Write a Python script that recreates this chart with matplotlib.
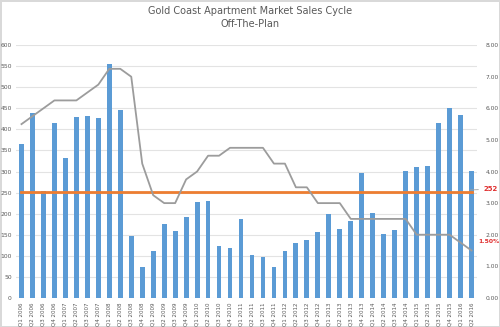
import numpy as np
import matplotlib.pyplot as plt

# kuartal dari Q1 2006 sampai Q2 2016
quarters = [f"Q{q} {y}" for y in range(2006, 2017) for q in range(1, 5)][:42]

# jumlah penjualan off-the-plan (sumbu kiri)
sales = [366, 439, 254, 415, 331, 430, 432, 428, 556, 447,
         147, 73, 112, 176, 159, 191, 228, 230, 123, 119,
         187, 103, 96, 74, 111, 131, 138, 157, 200, 164,
         182, 297, 202, 152, 161, 301, 310, 312, 416, 451,
         435, 302]

# suku bunga (sumbu kanan)
rate = [5.50, 5.75, 6.00, 6.25, 6.25, 6.25, 6.50, 6.75, 7.25, 7.25,
        7.00, 4.25, 3.25, 3.00, 3.00, 3.75, 4.00, 4.50, 4.50, 4.75,
        4.75, 4.75, 4.75, 4.25, 4.25, 3.50, 3.50, 3.00, 3.00, 3.00,
        2.50, 2.50, 2.50, 2.50, 2.50, 2.50, 2.00, 2.00, 2.00, 2.00,
        1.75, 1.50]

avg_sales = 252
grey_txt = '#595959'

fig = plt.figure(figsize=(5, 3.27), dpi=100)
fig.patch.set_edgecolor('#D9D9D9')
fig.patch.set_linewidth(1)
ax = fig.add_axes([0.032, 0.089, 0.922, 0.773])
x = np.arange(len(quarters))

ax.bar(x, sales, width=0.44, color='#5B9BD5', zorder=2)
ax.plot(x, [avg_sales] * len(x), color='#ED7D31', lw=2, zorder=3)
ax.set_xlim(-0.5, len(x) - 0.5)
ax.set_ylim(0, 600)
ax.set_yticks(range(0, 601, 50))
ax.grid(axis='y', color='#E3E3E3', lw=0.8, zorder=0)
ax.set_xticks(x)
ax.set_xticklabels(quarters, rotation=90, fontsize=4, color=grey_txt)
ax.tick_params(axis='y', labelsize=4.3, colors=grey_txt, length=0, pad=3)
ax.tick_params(axis='x', length=0, pad=3)
for s in ax.spines.values():
    s.set_visible(False)

ax2 = ax.twinx()
ax2.plot(x, rate, color='#9C9C9C', lw=1.3, zorder=4)
ax2.set_ylim(0, 8)
ax2.set_yticks(range(0, 9))
ax2.set_yticklabels([f"{v:.2f}" for v in range(0, 9)])
ax2.tick_params(axis='y', labelsize=4.3, colors=grey_txt, length=0, pad=6)
for s in ax2.spines.values():
    s.set_visible(False)

ax.annotate(str(avg_sales), xy=(40.6, avg_sales + 4), xycoords='data',
            xytext=(1.015, (avg_sales + 6) / 600), textcoords='axes fraction',
            fontsize=5, color='#E03030', fontweight='bold', va='center',
            arrowprops=dict(arrowstyle='-', color='#A0A0A0', lw=0.6))
ax2.text(1.002, 1.78 / 8, f"{rate[-1]:.2f}%", transform=ax2.transAxes,
         fontsize=4.4, color='#E03030', fontweight='bold', va='center')

fig.text(0.5, 0.966, 'Gold Coast Apartment Market Sales Cycle', ha='center',
         va='center', fontsize=7, color=grey_txt)
fig.text(0.5, 0.928, 'Off-The-Plan', ha='center', va='center',
         fontsize=7, color=grey_txt)

plt.savefig('out.png', dpi=100)
